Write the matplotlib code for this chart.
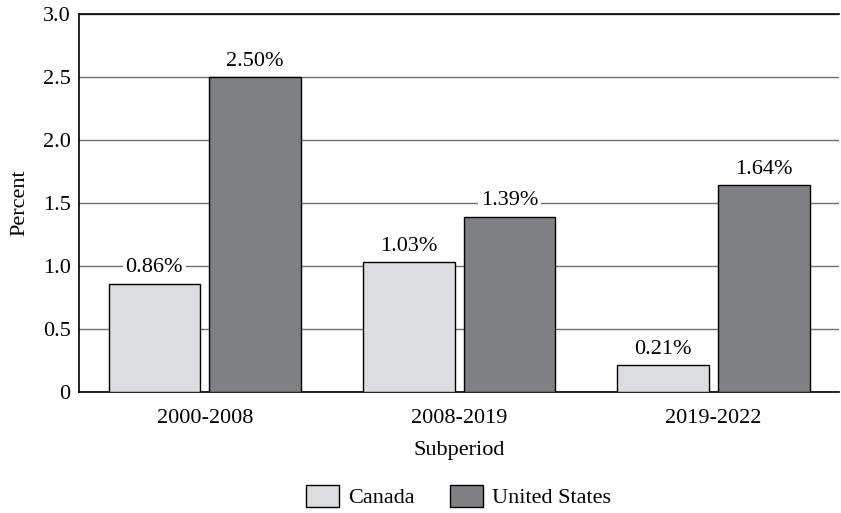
import matplotlib.pyplot as plt
import numpy as np
from matplotlib.patches import Patch

subperiods = ["2000-2008", "2008-2019", "2019-2022"]
canada = [0.86, 1.03, 0.21]
united_states = [2.50, 1.39, 1.64]
yticks = [0, 0.5, 1.0, 1.5, 2.0, 2.5, 3.0]
ytick_labels = ["0", "0.5", "1.0", "1.5", "2.0", "2.5", "3.0"]

plt.rcParams['font.family'] = ['Liberation Serif', 'DejaVu Serif']
fs = 16

c_can = "#dcdde0"
c_us = "#7f8084"

fig = plt.figure(figsize=(8.41, 5.13), dpi=100)
ax = fig.add_axes([0.094, 0.236, 0.904, 0.737])

x = np.arange(len(subperiods))
w = 0.36
off = 0.198
b1 = ax.bar(x - off, canada, w, color=c_can, edgecolor="black", linewidth=1, zorder=3)
b2 = ax.bar(x + off, united_states, w, color=c_us, edgecolor="black", linewidth=1, zorder=3)

for bars, vals in [(b1, canada), (b2, united_states)]:
    for r, v in zip(bars, vals):
        ax.text(r.get_x() + r.get_width() / 2, v + 0.05, "%.2f%%" % v,
                ha="center", va="bottom", fontsize=fs, zorder=4,
                bbox=dict(facecolor="white", edgecolor="none", pad=2))

ax.set_xlim(-0.494, 2.494)
ax.set_ylim(0, 3.0)
ax.set_yticks(yticks)
ax.set_yticklabels(ytick_labels)
ax.set_xticks(x)
ax.set_xticklabels(subperiods)
ax.tick_params(length=0, labelsize=fs)
ax.tick_params(axis="x", pad=12)
ax.tick_params(axis="y", pad=6)
ax.yaxis.grid(True, color="#707070", linewidth=1)
ax.set_axisbelow(True)
for s in ["left", "bottom", "top"]:
    ax.spines[s].set_linewidth(1.2)
ax.spines["right"].set_visible(False)

ax.set_xlabel("Subperiod", fontsize=fs, labelpad=10)
ax.set_ylabel("Percent", fontsize=fs, labelpad=10)

handles = [Patch(facecolor=c_can, edgecolor="black", label="Canada"),
           Patch(facecolor=c_us, edgecolor="black", label="United States")]
fig.legend(handles=handles, loc="lower center", bbox_to_anchor=(0.545, -0.03), ncol=2,
           frameon=False, fontsize=fs, handlelength=1.5, handleheight=1.1,
           handletextpad=0.4, columnspacing=1.6)

fig.savefig("out.png", dpi=100)
